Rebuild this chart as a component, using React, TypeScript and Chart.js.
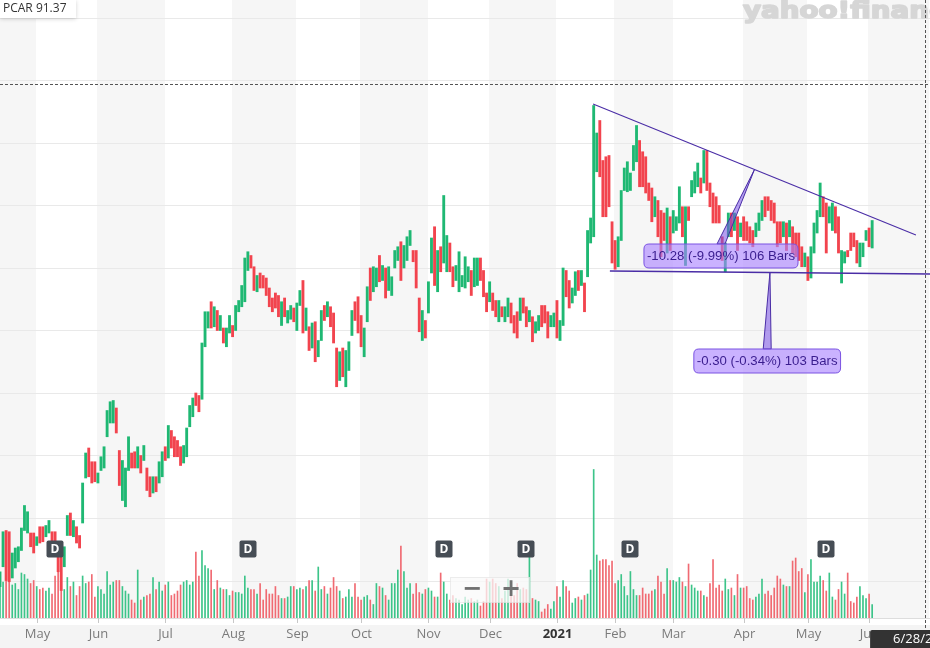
import React, { useEffect, useRef } from "react";
import { Chart, registerables } from "chart.js";

Chart.register(...registerables);

// ---------------- data ----------------
const ticker = "PCAR";
const lastPrice = "91.37";

// daily bars, one per trading day (index 0 = mid April 2020)
const highs: number[] = [
  65.7, 68.9, 69.0, 68.9, 67.2, 67.6, 67.7, 69.2, 71.0, 70.5,
  68.8, 68.8, 68.5, 69.3, 69.3, 69.4, 69.8, 68.9, 68.9, 68.0,
  66.9, 67.7, 70.2, 70.4, 69.8, 69.3, 68.6, 72.8, 75.2, 75.6,
  74.5, 74.5, 73.6, 74.9, 75.7, 78.6, 79.3, 79.4, 78.8, 75.4,
  74.6, 74.0, 76.5, 75.2, 75.3, 75.7, 75.0, 75.8, 74.0, 73.3,
  73.3, 73.3, 74.5, 75.3, 75.7, 77.4, 77.0, 76.5, 76.2, 75.7,
  75.8, 77.2, 79.0, 79.6, 80.0, 79.8, 84.0, 86.5, 86.5, 87.3,
  86.9, 86.6, 86.2, 85.2, 85.2, 86.2, 85.4, 87.0, 87.4, 88.6,
  90.8, 91.3, 91.0, 90.1, 89.4, 89.6, 89.4, 89.2, 88.4, 87.6,
  88.0, 87.8, 87.3, 87.6, 86.6, 87.0, 86.8, 87.2, 88.2, 89.0,
  86.8, 85.3, 85.6, 85.7, 84.2, 86.6, 87.0, 87.3, 86.9, 86.4,
  83.6, 83.3, 83.6, 83.4, 84.1, 86.6, 87.3, 87.7, 86.2, 85.2,
  88.5, 90.0, 90.1, 90.0, 91.0, 90.2, 90.0, 90.1, 89.3, 91.4,
  91.7, 92.1, 91.8, 92.5, 93.0, 91.4, 91.4, 87.6, 86.6, 85.8,
  88.9, 92.4, 93.3, 91.4, 91.7, 95.8, 92.6, 92.0, 90.1, 90.2,
  91.3, 89.4, 90.9, 90.1, 89.8, 90.8, 90.8, 90.8, 89.8, 88.0,
  88.9, 88.0, 87.4, 87.4, 86.9, 86.9, 87.6, 87.2, 86.2, 86.5,
  87.6, 87.6, 86.9, 86.6, 86.1, 85.7, 86.2, 87.0, 87.0, 86.5,
  86.2, 86.4, 87.4, 85.8, 90.0, 89.8, 89.0, 88.4, 89.7, 89.8,
  89.8, 88.8, 93.0, 94.0, 103.0, 100.8, 101.8, 98.6, 98.9, 99.0,
  93.7, 92.2, 92.5, 96.2, 98.0, 98.5, 97.6, 99.8, 101.4, 100.2,
  99.3, 98.9, 96.8, 96.4, 95.7, 95.4, 94.6, 94.4, 94.8, 94.1,
  94.6, 94.1, 96.5, 94.9, 94.9, 94.9, 97.0, 97.7, 98.4, 97.2,
  99.4, 99.4, 96.8, 96.0, 95.7, 95.0, 92.5, 92.0, 94.4, 94.4,
  94.4, 94.1, 93.6, 94.1, 93.7, 93.3, 93.0, 93.6, 94.4, 95.4,
  95.7, 95.7, 95.4, 95.2, 93.7, 93.7, 93.7, 93.6, 93.8, 93.3,
  92.8, 92.8, 91.7, 91.2, 90.9, 91.7, 93.6, 94.6, 96.8, 95.7,
  95.2, 94.9, 95.2, 94.9, 94.1, 91.4, 91.3, 91.4, 92.8, 92.8,
  92.2, 92.0, 92.0, 93.0, 93.2, 93.8,
];

const lows: number[] = [
  64.5, 66.1, 65.0, 64.9, 65.2, 66.0, 66.5, 67.4, 69.0, 68.8,
  67.7, 67.2, 67.8, 68.0, 68.1, 68.5, 68.8, 68.0, 67.7, 65.7,
  64.2, 66.1, 68.6, 68.6, 68.5, 68.0, 67.6, 69.6, 73.2, 73.3,
  72.8, 72.9, 72.8, 73.8, 74.0, 76.5, 77.6, 77.6, 76.8, 72.6,
  71.4, 70.9, 73.8, 74.0, 74.0, 74.0, 73.6, 74.6, 72.2, 71.7,
  72.0, 72.1, 72.8, 73.3, 74.6, 74.8, 75.6, 74.9, 74.9, 74.2,
  74.4, 74.9, 77.3, 78.1, 79.0, 78.5, 79.5, 83.7, 85.2, 85.2,
  85.3, 85.0, 85.0, 84.0, 83.7, 84.8, 84.5, 85.0, 86.5, 86.9,
  87.3, 89.8, 90.0, 88.2, 88.1, 88.4, 88.4, 87.8, 86.9, 86.5,
  86.8, 86.1, 85.4, 86.1, 85.6, 85.9, 85.7, 85.0, 87.0, 84.8,
  85.0, 83.4, 83.6, 82.5, 82.9, 84.2, 85.8, 86.1, 85.3, 84.0,
  80.5, 81.0, 81.3, 80.5, 81.8, 84.6, 85.8, 84.8, 83.7, 82.9,
  85.7, 87.4, 88.1, 88.5, 88.9, 89.0, 87.6, 88.2, 87.8, 90.0,
  90.6, 89.0, 90.0, 90.6, 91.8, 90.5, 88.4, 84.9, 84.2, 84.4,
  86.4, 89.6, 88.6, 88.1, 89.7, 90.4, 89.7, 89.7, 88.5, 89.0,
  88.1, 88.5, 88.4, 88.9, 87.8, 88.5, 88.6, 89.0, 87.7, 86.5,
  87.3, 86.6, 86.1, 85.7, 86.1, 85.7, 86.1, 85.6, 84.8, 84.4,
  85.8, 86.4, 85.3, 85.7, 84.1, 84.8, 85.0, 85.3, 85.6, 84.4,
  85.3, 85.3, 84.4, 84.2, 85.4, 87.7, 86.8, 87.2, 87.8, 88.2,
  88.6, 86.5, 89.3, 92.0, 92.5, 97.7, 97.3, 94.1, 94.1, 94.9,
  90.4, 89.9, 90.1, 92.2, 96.2, 96.1, 96.2, 97.8, 98.5, 96.5,
  96.5, 96.0, 95.4, 93.7, 94.1, 92.5, 90.9, 92.2, 91.2, 91.4,
  92.8, 93.0, 93.6, 92.5, 90.2, 93.8, 95.7, 96.0, 96.5, 96.0,
  96.8, 96.2, 94.9, 93.6, 93.6, 93.6, 90.6, 89.7, 92.5, 92.5,
  93.0, 91.4, 92.5, 92.2, 92.2, 92.0, 91.7, 92.5, 93.0, 93.8,
  94.1, 94.6, 93.8, 93.6, 91.7, 92.0, 92.5, 91.4, 92.5, 91.2,
  90.9, 90.6, 90.1, 90.1, 89.0, 89.2, 91.2, 92.8, 94.1, 94.1,
  91.2, 93.6, 93.0, 92.8, 91.2, 88.8, 90.4, 90.9, 91.4, 91.7,
  90.4, 90.1, 90.9, 92.2, 91.7, 91.6,
];

// 1 = closed up (green), 0 = closed down (red)
const rising: number[] = [
  1, 1, 0, 0, 1, 1, 1, 1, 1, 1,
  0, 0, 1, 0, 0, 1, 1, 0, 0, 0,
  0, 1, 1, 0, 1, 0, 0, 1, 1, 0,
  0, 0, 1, 1, 1, 1, 1, 1, 0, 0,
  1, 1, 1, 0, 0, 1, 0, 1, 0, 0,
  1, 0, 1, 1, 0, 1, 0, 0, 0, 0,
  1, 1, 1, 1, 0, 0, 1, 1, 1, 0,
  1, 0, 1, 0, 1, 1, 0, 1, 1, 1,
  1, 1, 0, 0, 1, 0, 0, 0, 0, 0,
  0, 0, 1, 0, 1, 1, 0, 1, 1, 0,
  1, 0, 1, 0, 1, 1, 0, 1, 0, 0,
  0, 1, 0, 1, 1, 1, 0, 0, 0, 1,
  1, 0, 1, 1, 0, 1, 0, 1, 1, 1,
  1, 0, 1, 1, 1, 0, 0, 0, 1, 0,
  1, 1, 0, 1, 0, 1, 1, 0, 0, 1,
  1, 1, 1, 1, 0, 1, 1, 0, 0, 0,
  1, 0, 0, 1, 0, 1, 1, 0, 0, 0,
  1, 0, 0, 1, 0, 1, 1, 0, 0, 0,
  1, 1, 0, 1, 1, 0, 0, 1, 1, 0,
  1, 0, 1, 1, 1, 1, 0, 0, 0, 0,
  0, 0, 1, 1, 1, 1, 1, 1, 1, 0,
  0, 0, 0, 0, 1, 0, 0, 0, 1, 0,
  1, 1, 1, 0, 1, 0, 1, 1, 1, 0,
  1, 0, 0, 0, 0, 0, 0, 1, 1, 0,
  1, 0, 1, 0, 0, 0, 0, 1, 1, 1,
  0, 0, 0, 0, 0, 0, 1, 0, 1, 0,
  0, 0, 0, 1, 0, 1, 1, 1, 1, 0,
  0, 1, 1, 0, 0, 1, 1, 0, 0, 0,
  0, 1, 1, 1, 0, 1,
];

// volume in millions of shares
const volumes: number[] = [
  2.5, 2.4, 2.8, 2.5, 2.2, 2.3, 1.9, 3.0, 2.9, 2.6,
  2.3, 2.5, 2.1, 1.9, 2.0, 1.8, 2.0, 1.6, 2.8, 3.2,
  3.0, 1.9, 2.7, 2.1, 2.4, 1.5, 2.1, 2.8, 2.3, 2.4,
  2.9, 1.4, 2.1, 1.9, 1.6, 3.1, 2.2, 2.4, 2.5, 2.5,
  2.1, 1.8, 1.6, 1.2, 1.0, 3.2, 1.2, 1.4, 1.5, 1.6,
  2.7, 1.9, 2.4, 1.8, 2.2, 2.4, 1.5, 1.6, 1.8, 2.2,
  2.4, 2.5, 2.2, 2.4, 4.4, 2.8, 4.5, 3.5, 3.3, 3.2,
  1.9, 2.5, 2.0, 1.9, 1.9, 1.5, 1.8, 1.7, 1.7, 1.6,
  2.8, 2.0, 1.9, 1.9, 1.6, 2.3, 1.2, 1.9, 1.6, 1.6,
  2.1, 1.5, 1.3, 1.3, 1.4, 2.1, 2.1, 1.9, 2.0, 1.9,
  2.1, 2.5, 2.5, 1.8, 3.4, 1.9, 2.1, 1.6, 2.0, 2.7,
  2.1, 1.8, 1.3, 1.4, 1.9, 1.4, 2.3, 1.4, 1.2, 1.4,
  1.5, 1.2, 0.9, 2.3, 2.1, 2.0, 1.5, 1.2, 2.3, 2.3,
  3.2, 4.8, 3.1, 2.0, 2.3, 1.6, 2.3, 1.7, 1.6, 1.9,
  2.0, 1.8, 1.4, 1.4, 3.0, 2.4, 1.6, 1.2, 1.5, 1.3,
  1.2, 0.9, 1.4, 1.2, 1.3, 1.1, 1.2, 0.8, 1.1, 2.6,
  2.4, 2.6, 2.3, 2.1, 1.3, 1.8, 2.6, 2.1, 1.5, 2.3,
  1.9, 2.0, 1.9, 4.2, 1.3, 1.2, 1.1, 0.4, 0.6, 0.9,
  0.6, 1.1, 2.1, 1.4, 2.5, 2.1, 1.8, 1.0, 1.3, 1.4,
  1.2, 1.5, 1.6, 3.2, 9.9, 4.2, 3.8, 3.9, 3.9, 3.5,
  3.8, 2.3, 2.5, 2.9, 2.1, 1.5, 3.1, 1.9, 1.5, 1.5,
  2.0, 1.6, 1.6, 1.8, 1.9, 2.8, 2.4, 1.6, 3.3, 2.5,
  2.5, 2.4, 2.7, 2.4, 2.1, 3.6, 2.2, 2.0, 1.8, 1.8,
  1.5, 1.4, 2.3, 3.9, 2.0, 2.2, 1.8, 2.6, 1.9, 2.0,
  1.5, 2.9, 2.0, 2.0, 2.1, 1.3, 1.2, 1.4, 1.6, 2.6,
  1.6, 1.8, 1.5, 2.0, 2.8, 2.6, 2.2, 2.1, 2.1, 3.8,
  4.0, 3.1, 3.3, 1.7, 2.9, 3.9, 2.4, 2.4, 2.8, 2.5,
  1.8, 3.0, 1.4, 1.2, 1.9, 2.4, 1.6, 3.0, 1.1, 1.0,
  1.4, 2.1, 1.5, 1.3, 1.6, 0.9,
];

// first trading day of each month (bar index) and its label
const monthTickIdx: number[] = [12, 32, 54, 76, 97, 118, 140, 160, 182, 201, 220, 243, 264, 284];
const monthLabels: string[] = ["May", "Jun", "Jul", "Aug", "Sep", "Oct", "Nov", "Dec", "2021", "Feb", "Mar", "Apr", "May", "Jun"];
const yearLabels: string[] = ["2021"];

// dividend bars
const dividendIdx: number[] = [18, 81, 145, 172, 206, 270];

// price grid values
const priceGrid: number[] = [65, 70, 75, 80, 85, 90, 95, 100, 105, 110];

// drawn trend lines [barIndex, price]
const upperTrend: number[][] = [[193.8, 103.12], [299.3, 92.64]];
const lowerTrend: number[][] = [[199.3, 89.76], [303.9, 89.52]];
const upperTrendText = "-10.28 (-9.99%) 106 Bars";
const lowerTrendText = "-0.30 (-0.34%) 103 Bars";

// crosshair
const crosshairIdx = 302.3;
const crosshairPrice = 104.72;
const crosshairDate = "6/28/2021";

// ---------------- layout / style ----------------
const W = 930;
const H = 648;
const X_MIN = 0;
const X_MAX = 303.9;
const PRICE_MIN = 62;
const PRICE_MAX = 111.44;
const VOL_MAX = 41.2;
const AXIS_H = 30;

const LABEL_ANCHORS = {
  upper: [235.6, 90.96],
  lower: [250.7, 82.56],
};

const C = {
  up: "#1fb873",
  dn: "#f2444e",
  volUp: "#3cc489",
  volDn: "#f06a72",
  stripe: "#f6f6f6",
  grid: "#e9e9e9",
  band: "#f4f4f4",
  tickText: "#7b7b7b",
  yearText: "#333333",
  trend: "#4a2da6",
  labelFill: "rgba(170,130,255,0.62)",
  labelBorder: "#7a52e2",
  labelText: "#3a1d8f",
  logo: "#d6d6d6",
  divFill: "#464d55",
};

function rrect(ctx: CanvasRenderingContext2D, x: number, y: number, w: number, h: number, r: number) {
  ctx.beginPath();
  ctx.moveTo(x + r, y);
  ctx.lineTo(x + w - r, y);
  ctx.quadraticCurveTo(x + w, y, x + w, y + r);
  ctx.lineTo(x + w, y + h - r);
  ctx.quadraticCurveTo(x + w, y + h, x + w - r, y + h);
  ctx.lineTo(x + r, y + h);
  ctx.quadraticCurveTo(x, y + h, x, y + h - r);
  ctx.lineTo(x, y + r);
  ctx.quadraticCurveTo(x, y, x + r, y);
  ctx.closePath();
}

const backgroundPlugin = {
  id: "ybg",
  beforeDraw(chart: any) {
    const { ctx, chartArea } = chart;
    const { top, bottom } = chartArea;
    const x = chart.scales.x;
    const price = chart.scales.price;
    ctx.save();
    ctx.fillStyle = "#ffffff";
    ctx.fillRect(0, 0, chart.width, chart.height);
    // bottom axis band
    ctx.fillStyle = C.band;
    ctx.fillRect(0, bottom + 7, chart.width, chart.height - bottom - 7);
    // month stripes
    const edges = [X_MIN, ...monthTickIdx, X_MAX];
    ctx.fillStyle = C.stripe;
    for (let k = 0; k < edges.length - 1; k++) {
      if (k % 2 === 0) {
        const x0 = x.getPixelForValue(edges[k] - 0.2);
        const x1 = x.getPixelForValue(edges[k + 1] - 0.2);
        ctx.fillRect(Math.round(x0), top, Math.round(x1) - Math.round(x0), bottom - top);
      }
    }
    // price grid
    ctx.strokeStyle = C.grid;
    ctx.lineWidth = 1;
    for (const v of priceGrid) {
      const y = Math.round(price.getPixelForValue(v)) + 0.5;
      ctx.beginPath();
      ctx.moveTo(0, y);
      ctx.lineTo(chart.width, y);
      ctx.stroke();
    }
    // logo watermark
    ctx.fillStyle = C.logo;
    ctx.strokeStyle = C.logo;
    ctx.lineWidth = 1.6;
    ctx.lineJoin = "round";
    ctx.font = 'bold 23px "DejaVu Sans"';
    ctx.textBaseline = "alphabetic";
    const wPart = ctx.measureText("yahoo!finan").width;
    const sx = 186 / wPart;
    ctx.translate(743, 18);
    ctx.scale(sx, 1);
    ctx.fillText("yahoo!finance", 0, 0);
    ctx.strokeText("yahoo!finance", 0, 0);
    ctx.restore();
  },
  afterDraw(chart: any) {
    const { ctx, chartArea } = chart;
    const { bottom } = chartArea;
    const x = chart.scales.x;
    ctx.save();
    // baseline
    ctx.strokeStyle = "#dddddd";
    ctx.lineWidth = 1;
    ctx.beginPath();
    ctx.moveTo(0, bottom + 0.5);
    ctx.lineTo(chart.width, bottom + 0.5);
    ctx.stroke();
    // ticks + labels
    ctx.textAlign = "center";
    ctx.textBaseline = "middle";
    monthTickIdx.forEach((v, i) => {
      const px = Math.round(x.getPixelForValue(v)) + 0.5;
      ctx.strokeStyle = "#c8c8c8";
      ctx.beginPath();
      ctx.moveTo(px, bottom);
      ctx.lineTo(px, bottom + 5);
      ctx.stroke();
      const isYear = yearLabels.includes(monthLabels[i]);
      ctx.font = (isYear ? "bold " : "") + '13px "Open Sans"';
      ctx.fillStyle = isYear ? C.yearText : C.tickText;
      ctx.fillText(monthLabels[i], px, bottom + 16);
    });
    // crosshair date label
    const cx = x.getPixelForValue(crosshairIdx);
    ctx.fillStyle = "#333333";
    rrect(ctx, cx - 55, bottom + 12, 110, 30, 2);
    ctx.fill();
    ctx.fillStyle = "#ffffff";
    ctx.font = '13px "Open Sans"';
    ctx.textAlign = "left";
    ctx.fillText(crosshairDate, cx - 32, bottom + 21.5);
    ctx.restore();
  },
};

const overlayPlugin = {
  id: "yoverlay",
  afterDatasetsDraw(chart: any) {
    const { ctx, chartArea } = chart;
    const { top, bottom } = chartArea;
    const x = chart.scales.x;
    const price = chart.scales.price;
    const px = (v: number) => x.getPixelForValue(v);
    const py = (v: number) => price.getPixelForValue(v);
    ctx.save();

    // dividend markers
    dividendIdx.forEach((d) => {
      const cx = Math.round(px(d));
      const cy = bottom - 69;
      ctx.fillStyle = C.divFill;
      rrect(ctx, cx - 8.5, cy - 8.5, 17, 17, 2);
      ctx.fill();
      ctx.fillStyle = "#ffffff";
      ctx.font = 'bold 12px "Open Sans"';
      ctx.textAlign = "center";
      ctx.textBaseline = "middle";
      ctx.fillText("D", cx, cy + 0.5);
    });

    // zoom control
    ctx.fillStyle = "rgba(250,250,250,0.75)";
    ctx.fillRect(450, bottom - 41, 80, 26);
    ctx.strokeStyle = "rgba(0,0,0,0.06)";
    ctx.strokeRect(450.5, bottom - 40.5, 79, 25);
    ctx.fillStyle = "#707070";
    ctx.font = 'bold 24px "DejaVu Sans"';
    ctx.textAlign = "center";
    ctx.textBaseline = "middle";
    ctx.fillText("\u2212", 472, bottom - 28);
    ctx.fillText("+", 511, bottom - 28);

    // trend lines
    const drawTrend = (seg: number[][], anchor: number[], text: string, lw: number) => {
      const x0 = px(seg[0][0]), y0 = py(seg[0][1]);
      const x1 = px(seg[1][0]), y1 = py(seg[1][1]);
      ctx.strokeStyle = C.trend;
      ctx.lineWidth = lw;
      ctx.beginPath();
      ctx.moveTo(x0, y0);
      ctx.lineTo(x1, y1);
      ctx.stroke();
      const mx = (x0 + x1) / 2, my = (y0 + y1) / 2;
      const lx = px(anchor[0]), ly = py(anchor[1]);
      ctx.font = '13.2px "Liberation Sans"';
      const tw = ctx.measureText(text).width;
      const bw = tw + 6, bh = 24;
      // pointer wedge
      ctx.fillStyle = "rgba(120,80,230,0.55)";
      ctx.strokeStyle = C.trend;
      ctx.lineWidth = 1;
      ctx.beginPath();
      ctx.moveTo(mx, my);
      ctx.lineTo(lx - 4, ly - bh / 2);
      ctx.lineTo(lx + 4, ly - bh / 2);
      ctx.closePath();
      ctx.fill();
      ctx.stroke();
      // label box
      rrect(ctx, lx - bw / 2, ly - bh / 2, bw, bh, 5);
      ctx.fillStyle = C.labelFill;
      ctx.fill();
      ctx.strokeStyle = C.labelBorder;
      ctx.lineWidth = 1;
      ctx.stroke();
      ctx.fillStyle = C.labelText;
      ctx.textAlign = "center";
      ctx.textBaseline = "middle";
      ctx.fillText(text, lx, ly + 0.5);
    };
    drawTrend(upperTrend, LABEL_ANCHORS.upper, upperTrendText, 1.1);
    drawTrend(lowerTrend, LABEL_ANCHORS.lower, lowerTrendText, 1.5);

    // crosshair
    ctx.strokeStyle = "#555555";
    ctx.lineWidth = 1;
    ctx.setLineDash([3, 2]);
    const hy = Math.round(py(crosshairPrice)) + 0.5;
    ctx.beginPath();
    ctx.moveTo(0, hy);
    ctx.lineTo(chart.width, hy);
    ctx.stroke();
    const vx = Math.round(px(crosshairIdx)) + 0.5;
    ctx.beginPath();
    ctx.moveTo(vx, top);
    ctx.lineTo(vx, bottom + 12);
    ctx.stroke();
    ctx.setLineDash([]);

    // ticker label
    ctx.shadowColor = "rgba(0,0,0,0.18)";
    ctx.shadowBlur = 4;
    ctx.shadowOffsetY = 1;
    ctx.fillStyle = "#ffffff";
    ctx.fillRect(0, 0, 76, 18);
    ctx.shadowColor = "transparent";
    ctx.fillStyle = "#333333";
    ctx.font = '12px "Open Sans"';
    ctx.textAlign = "left";
    ctx.textBaseline = "middle";
    ctx.fillText(ticker + " " + lastPrice, 3, 8.5);
    ctx.restore();
  },
};

export default function App() {
  const ref = useRef<HTMLCanvasElement | null>(null);
  useEffect(() => {
    document.body.style.margin = "0";
    const canvas = ref.current;
    if (!canvas) return;
    const priceData = highs.map((h, i) => ({ x: i, y: [lows[i], h] }));
    const volData = volumes.map((v, i) => ({ x: i, y: v }));
    const chart = new Chart(canvas, {
      type: "bar",
      data: {
        datasets: [
          {
            label: "Volume",
            data: volData as any,
            xAxisID: "x",
            yAxisID: "vol",
            backgroundColor: volumes.map((_, i) => (rising[i] ? C.volUp : C.volDn)),
            barThickness: 1,
            grouped: false,
            order: 2,
          } as any,
          {
            label: ticker,
            data: priceData as any,
            xAxisID: "x",
            yAxisID: "price",
            backgroundColor: highs.map((_, i) => (rising[i] ? C.up : C.dn)),
            borderWidth: 0,
            barThickness: 2.2,
            grouped: false,
            order: 1,
          } as any,
        ],
      },
      options: {
        responsive: false,
        animation: false,
        events: [],
        layout: { padding: { left: 0, right: 0, top: 0, bottom: AXIS_H } },
        plugins: { legend: { display: false }, tooltip: { enabled: false } },
        scales: {
          x: { type: "linear", display: false, min: X_MIN, max: X_MAX, offset: false },
          price: { type: "linear", display: false, min: PRICE_MIN, max: PRICE_MAX },
          vol: { type: "linear", display: false, min: 0, max: VOL_MAX },
        },
      } as any,
      plugins: [backgroundPlugin, overlayPlugin],
    });
    return () => chart.destroy();
  }, []);
  return <canvas ref={ref} width={W} height={H} style={{ display: "block" }} />;
}
